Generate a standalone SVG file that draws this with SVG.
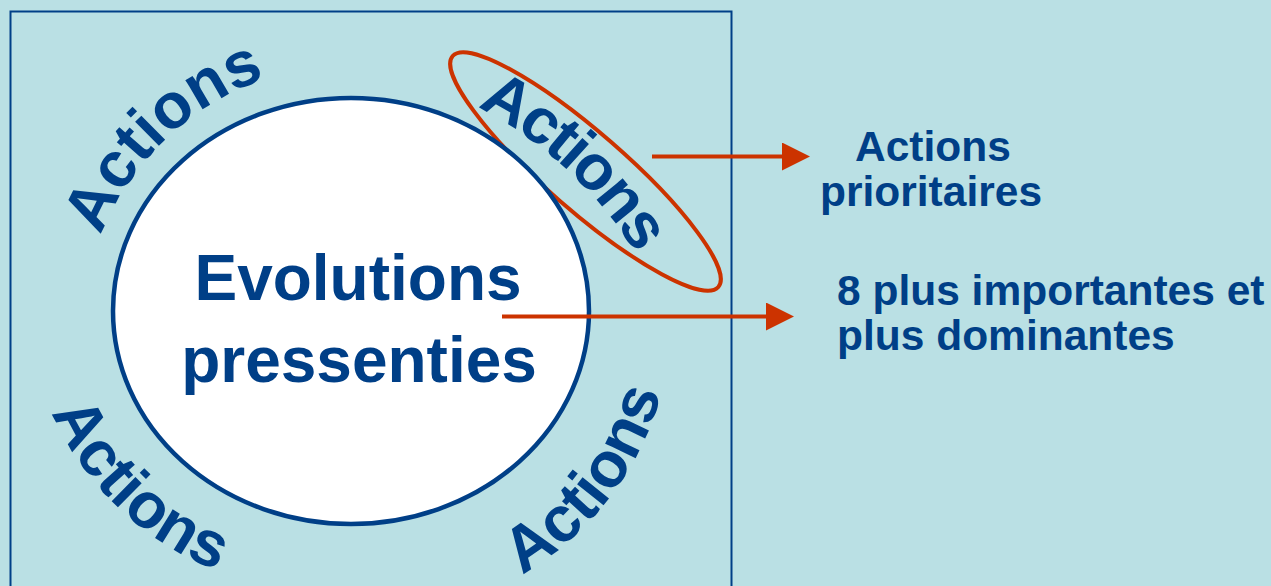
<svg xmlns="http://www.w3.org/2000/svg" width="1271" height="586" viewBox="0 0 1271 586">
<defs>
<style>
.t{font-family:"Liberation Sans",Arial,sans-serif;font-weight:bold;fill:#003F87}
.big{font-size:64px}
.side{font-size:42.5px}
.arr{stroke:#CC3300;stroke-width:4;fill:none}
</style>
<marker id="ah" markerUnits="userSpaceOnUse" markerWidth="28" markerHeight="28" refX="0" refY="14" orient="auto">
<path d="M0,0 L28,14 L0,28 Z" fill="#CC3300"/>
</marker>
<path id="pTL" d="M100,238 A270,270 0 0 1 268,78"/>
<path id="pTR" d="M467,102 A400,400 0 0 1 641,262"/>
<path id="pBL" d="M48,404 A300,300 0 0 0 226,574"/>
<path id="pBR" d="M512,580 A300,300 0 0 0 664,382"/>
</defs>
<rect x="0" y="0" width="1271" height="586" fill="#BAE0E4"/>
<rect x="10.5" y="11.5" width="721" height="600" fill="none" stroke="#003F87" stroke-width="2"/>
<g id="highlight">
<ellipse cx="585.5" cy="171.5" rx="176" ry="39" transform="rotate(41 585.5 171.5)" fill="none" stroke="#CC3300" stroke-width="4"/>
</g>
<g id="center">
<ellipse cx="351" cy="311" rx="238" ry="213" fill="#FFFFFF" stroke="#003F87" stroke-width="4.5"/>
<text class="t big" x="358" y="300" text-anchor="middle">Evolutions</text>
<text class="t big" x="359" y="382" text-anchor="middle">pressenties</text>
</g>
<g id="actions-tl"><text class="t big"><textPath href="#pTL" startOffset="50%" text-anchor="middle">Actions</textPath></text></g>
<g id="actions-tr"><text class="t big" letter-spacing="-2.5"><textPath href="#pTR" startOffset="50%" text-anchor="middle">Actions</textPath></text></g>
<g id="actions-bl"><text class="t big"><textPath href="#pBL" startOffset="50%" text-anchor="middle">Actions</textPath></text></g>
<g id="actions-br"><text class="t big"><textPath href="#pBR" startOffset="50%" text-anchor="middle">Actions</textPath></text></g>
<g id="label-prioritaires">
<text class="t side" x="855" y="161">Actions</text>
<text class="t side" x="820" y="206">prioritaires</text>
</g>
<g id="label-importantes">
<text class="t side" x="837" y="305">8 plus importantes et</text>
<text class="t side" x="837" y="350">plus dominantes</text>
</g>
<g id="connectors">
<line class="arr" x1="652" y1="156.5" x2="782" y2="156.5" marker-end="url(#ah)"/>
<line class="arr" x1="502" y1="316.5" x2="766" y2="316.5" marker-end="url(#ah)"/>
</g>
</svg>
